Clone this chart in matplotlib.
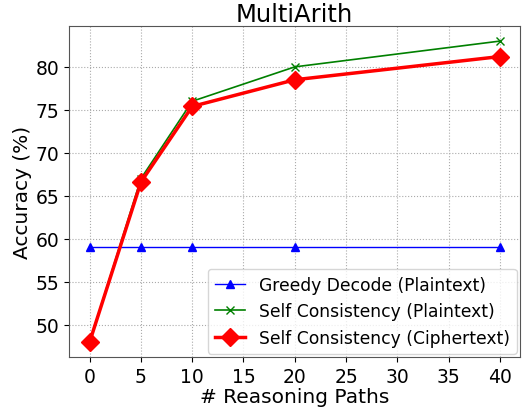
import matplotlib
matplotlib.use("Agg")
import matplotlib.pyplot as plt

paths = [0, 5, 10, 20, 40]
greedy = [59, 59, 59, 59, 59]
sc_plain = [48, 67, 76, 80, 83]
sc_cipher = [48, 66.6, 75.4, 78.5, 81.2]

fig, ax = plt.subplots(figsize=(5.24, 4.10), dpi=100)
fig.subplots_adjust(left=0.132, right=0.993, top=0.934, bottom=0.127)

ax.plot(paths, greedy, color="blue", marker="^", markersize=6, linewidth=1, label="Greedy Decode (Plaintext)")
ax.plot(paths, sc_plain, color="green", marker="x", markersize=6, linewidth=1.2, label="Self Consistency (Plaintext)")
ax.plot(paths, sc_cipher, color="red", marker="D", markersize=9, linewidth=2.5, label="Self Consistency (Ciphertext)")

ax.set_xlim(-2, 42)
ax.set_ylim(46.25, 84.75)
ax.set_xticks([0, 5, 10, 15, 20, 25, 30, 35, 40])
ax.set_yticks([50, 55, 60, 65, 70, 75, 80])
ax.tick_params(labelsize=13.5)
ax.grid(True, linestyle=":", color="#aaaaaa")
for s in ax.spines.values():
    s.set_color("#555555")

ax.set_title("MultiArith", fontsize=17.5, pad=3)
ax.set_xlabel("# Reasoning Paths", fontsize=14.5, labelpad=1)
ax.set_ylabel("Accuracy (%)", fontsize=14.5, labelpad=3)
ax.legend(loc="lower right", fontsize=12.3, handlelength=1.8, borderpad=0.4,
          labelspacing=0.5, borderaxespad=0.2)

fig.savefig("out.png")
